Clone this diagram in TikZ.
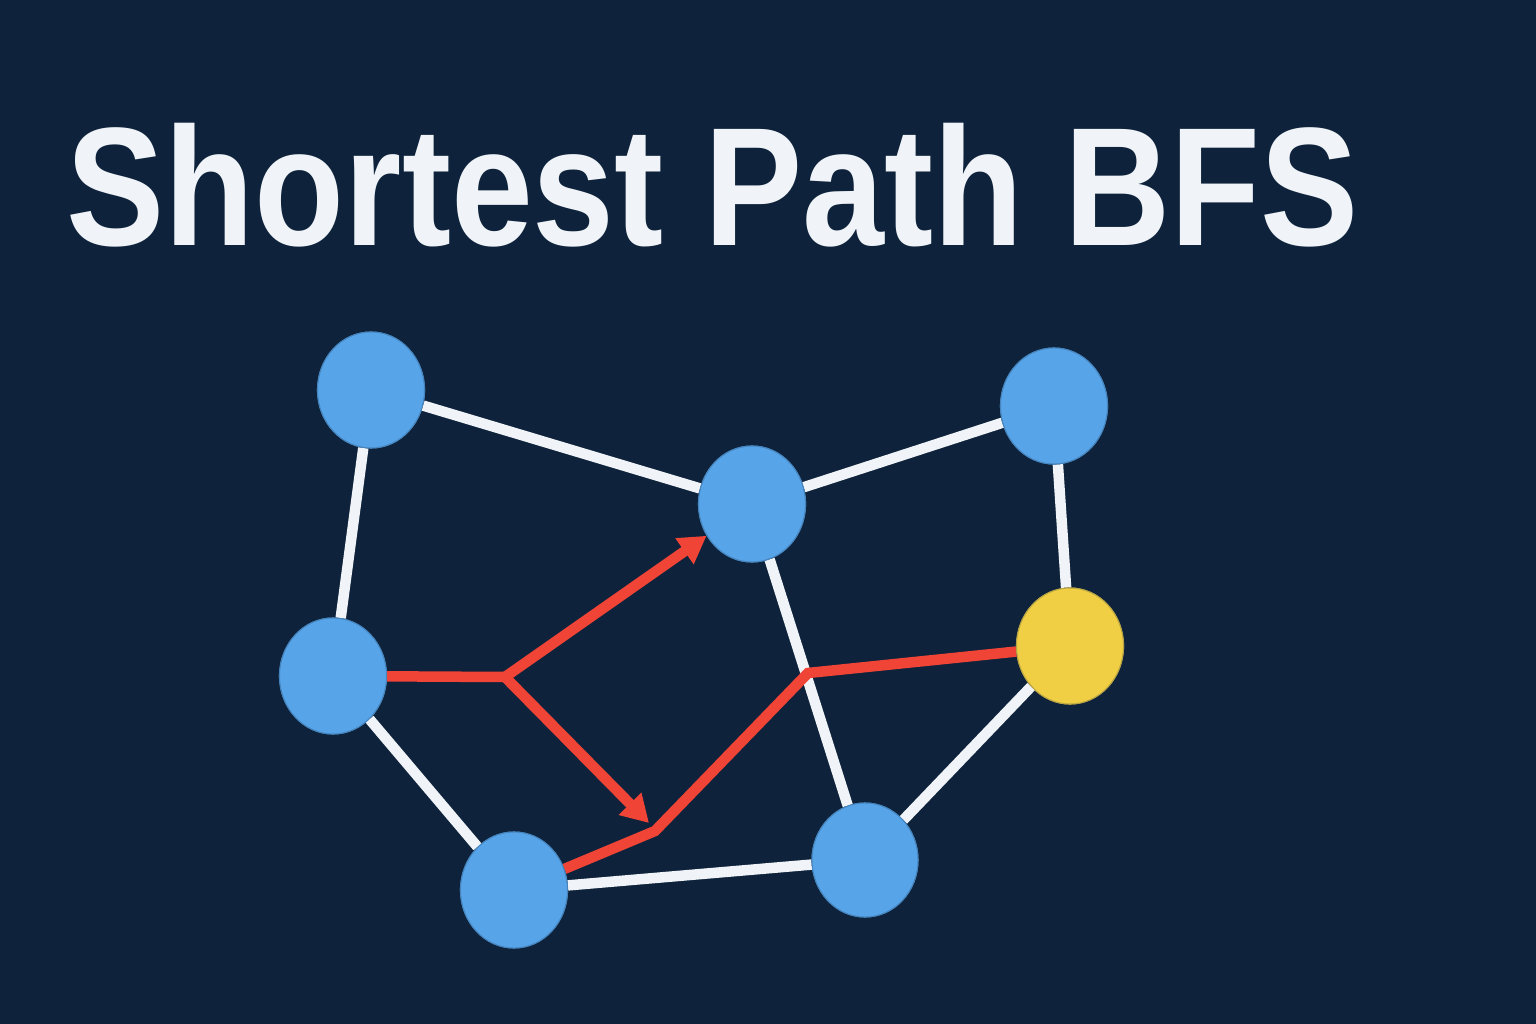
\documentclass[tikz,border=0pt]{standalone}
\usepackage{fontspec}
\setmainfont{Liberation Sans}
\usetikzlibrary{shapes.geometric,arrows.meta}
\definecolor{bg}{HTML}{0E233B}
\definecolor{nodeblue}{HTML}{58A4E8}
\definecolor{nodeyellow}{HTML}{F0CF45}
\definecolor{pathred}{HTML}{F04436}
\definecolor{edgewhite}{HTML}{F0F4F8}
\tikzset{
  vert/.style={ellipse, fill=nodeblue, draw=bg!25!nodeblue, line width=0.3pt, inner sep=0pt, minimum width=1.07cm, minimum height=1.16cm},
  goal/.style={vert, fill=nodeyellow, draw=bg!25!nodeyellow},
  edge/.style={draw=edgewhite, line width=0.105cm},
  redpath/.style={draw=pathred, line width=0.105cm, line join=miter},
  redarrow/.style={redpath, -{Triangle[length=0.27cm,width=0.30cm]}}
}
\begin{document}
\begin{tikzpicture}[x=0.01cm,y=-0.01cm]
\fill[bg] (0,0) rectangle (1536,1024);
\useasboundingbox (0,0) rectangle (1536,1024);
\node[anchor=base west, text=edgewhite, font=\fontsize{48}{50}\selectfont\bfseries, inner sep=0pt] (title) at (66,245) {\scalebox{0.872}[1]{Shortest Path BFS}};
% vertices
\node[vert] (A) at (371,390) {};
\node[vert] (B) at (752,504) {};
\node[vert] (C) at (1054,406) {};
\node[vert] (D) at (333,676) {};
\node[goal] (E) at (1070,646) {};
\node[vert] (F) at (514,890) {};
\node[vert, minimum width=1.06cm, minimum height=1.14cm] (G) at (865,860) {};
\coordinate (J) at (505,677);
\coordinate (K) at (649,823);
\coordinate (P1) at (655,831);
\coordinate (P2) at (808,673);
% white edges
\draw[edge] (A) -- (B);
\draw[edge] (A) -- (D);
\draw[edge] (B) -- (C);
\draw[edge] (C) -- (E);
\draw[edge] (B) -- (G);
\draw[edge] (D) -- (F);
\draw[edge] (F) -- (G);
\draw[edge] (E) -- (G);
% red paths
\draw[redpath] (D) -- (J);
\draw[redarrow] (J) -- (B);
\draw[redarrow] (J) -- (K);
\draw[redpath] (F) -- (P1) -- (P2) -- (E);
% redraw vertices on top
\node[vert] at (A) {};
\node[vert] at (B) {};
\node[vert] at (C) {};
\node[vert] at (D) {};
\node[goal] at (E) {};
\node[vert] at (F) {};
\node[vert, minimum width=1.06cm, minimum height=1.14cm] at (G) {};
\end{tikzpicture}
\end{document}
